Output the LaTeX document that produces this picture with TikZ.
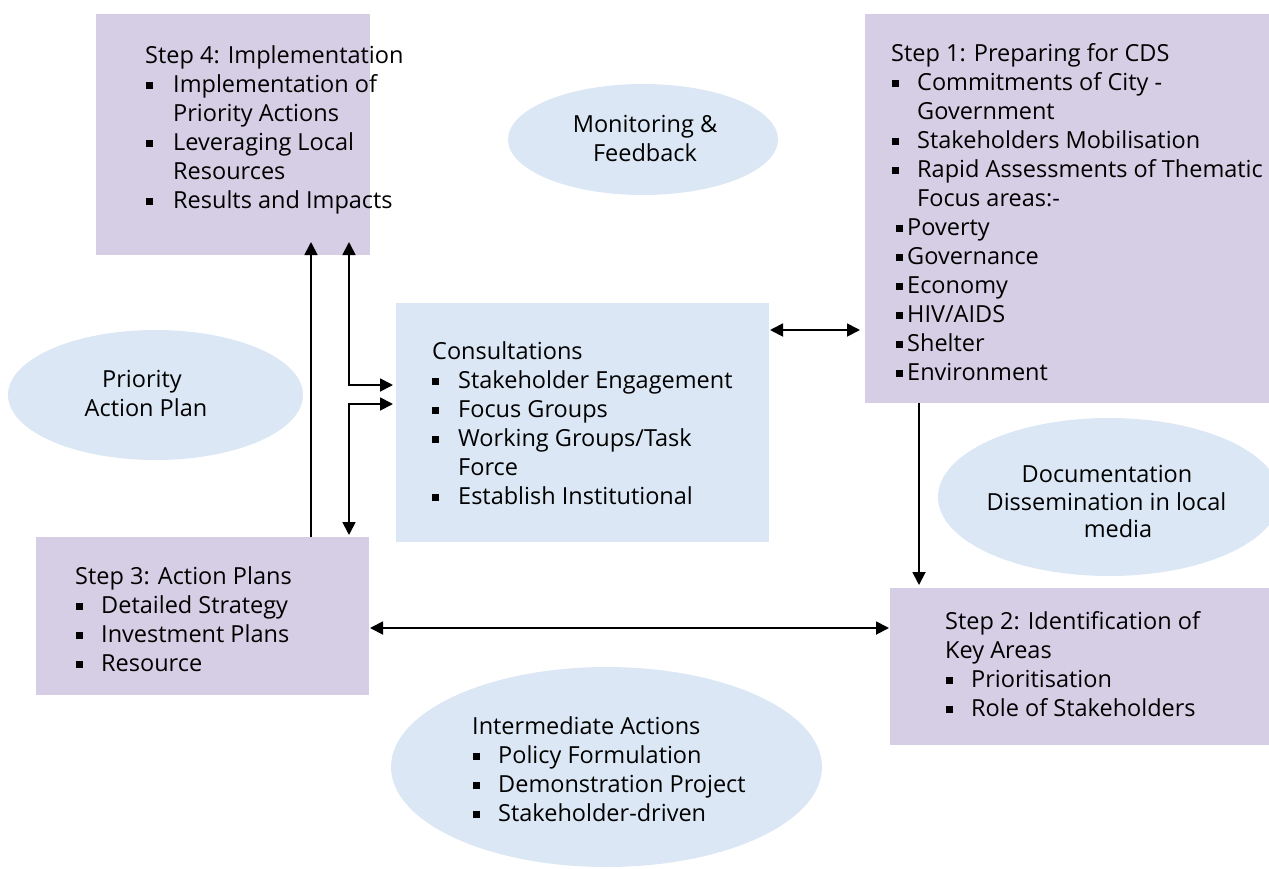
\documentclass[tikz,border=0pt]{standalone}
\usepackage{fontspec}
\setmainfont[Ligatures=NoCommon]{Open Sans}
\usetikzlibrary{shapes.geometric,arrows.meta}
\definecolor{lav}{HTML}{D6CEE4}
\definecolor{lblue}{HTML}{DBE7F4}
\tikzset{
  pbox/.style={fill=lav,draw=none,anchor=north west,inner sep=0},
  bbox/.style={fill=lblue,draw=none,anchor=north west,inner sep=0},
  ell/.style={ellipse,fill=lblue,draw=none,inner sep=0},
  txt/.style={anchor=base west,inner sep=0,font=\fontsize{23.5}{28}\selectfont},
  ctxt/.style={anchor=base,inner sep=0,font=\fontsize{23.5}{28}\selectfont},
  arr/.style={line width=1.8pt,-{Triangle[length=13pt,width=13pt]}},
  darr/.style={line width=1.8pt,{Triangle[length=13pt,width=13pt]}-{Triangle[length=13pt,width=13pt]}},
  bul/.style={fill=black}
}
\newcommand{\bitem}[5]{%
  \fill[bul] (#2,#3-10) rectangle ++(7,7);
  \node[txt] (#1) at (#4,#3) {#5};}
\begin{document}
\begin{tikzpicture}[x=1pt,y=-1pt]
\useasboundingbox (0,0) rectangle (1269,868);
% boxes
\node[pbox,minimum width=274,minimum height=241] (s4) at (96,14) {};
\node[pbox,minimum width=404,minimum height=389] (s1) at (865,14) {};
\node[bbox,minimum width=373,minimum height=239] (co) at (396,303) {};
\node[pbox,minimum width=333,minimum height=158] (s3) at (36,537) {};
\node[pbox,minimum width=379,minimum height=157] (s2) at (890,588) {};
% ellipses
\node[ell,minimum width=270,minimum height=111] (e1) at (643,139.5) {};
\node[ell,minimum width=295,minimum height=130] (e2) at (155.5,395) {};
\node[ell,minimum width=342,minimum height=158] (e3) at (1109,497) {};
\node[ell,minimum width=431,minimum height=200] (e4) at (606.5,767) {};
% Step 4
\node[txt] (s4t) at (145,63) {Step 4: Implementation};
\bitem{s4a}{146}{92}{173}{Implementation of}
\node[txt] (s4a2) at (173,121) {Priority Actions};
\bitem{s4b}{146}{150}{173}{Leveraging Local}
\node[txt] (s4b2) at (173,179) {Resources};
\bitem{s4c}{146}{208}{173}{Results and Impacts}
% Step 1
\node[txt] (s1t) at (891,61) {Step 1: Preparing for CDS};
\bitem{s1a}{892}{90}{917}{Commitments of City -}
\node[txt] (s1a2) at (917,119) {Government};
\bitem{s1b}{892}{148}{917}{Stakeholders Mobilisation}
\bitem{s1c}{892}{177}{917}{Rapid Assessments of Thematic}
\node[txt] (s1c2) at (917,206) {Focus areas:-};
\bitem{s1d}{896}{235}{907}{Poverty}
\bitem{s1e}{896}{264}{907}{Governance}
\bitem{s1f}{896}{293}{907}{Economy}
\bitem{s1g}{896}{322}{907}{HIV/AIDS}
\bitem{s1h}{896}{351}{907}{Shelter}
\bitem{s1i}{896}{380}{907}{Environment}
% Consultations
\node[txt] (cot) at (432,359) {Consultations};
\bitem{coa}{432}{388}{458}{Stakeholder Engagement}
\bitem{cob}{432}{417}{458}{Focus Groups}
\bitem{coc}{432}{446}{458}{Working Groups/Task}
\node[txt] (coc2) at (458,475) {Force};
\bitem{cod}{432}{504}{458}{Establish Institutional}
% Step 3
\node[txt] (s3t) at (75,584) {Step 3: Action Plans};
\bitem{s3a}{76}{613}{101}{Detailed Strategy}
\bitem{s3b}{76}{642}{101}{Investment Plans}
\bitem{s3c}{76}{671}{101}{Resource}
% Step 2
\node[txt] (s2t) at (945,629) {Step 2: Identification of};
\node[txt] (s2t2) at (945,658) {Key Areas};
\bitem{s2a}{946}{687}{971}{Prioritisation}
\bitem{s2b}{946}{716}{971}{Role of Stakeholders}
% ellipse texts
\node[ctxt] (e1a) at (645,132) {Monitoring \&};
\node[ctxt] (e1b) at (645,161) {Feedback};
\node[ctxt] (e2a) at (142,387) {Priority};
\node[ctxt] (e2b) at (146,416) {Action Plan};
\node[ctxt] (e3a) at (1107,482) {Documentation};
\node[ctxt] (e3b) at (1106.5,510) {Dissemination in local};
\node[ctxt] (e3c) at (1118,537) {media};
\node[txt] (e4t) at (472,734) {Intermediate Actions};
\bitem{e4a}{473}{763}{498}{Policy Formulation}
\bitem{e4b}{473}{792}{498}{Demonstration Project}
\bitem{e4c}{473}{821}{498}{Stakeholder-driven}
% connectors
\coordinate (xa) at (311,242);
\coordinate (xb) at (349,242);
\coordinate (ya) at (393,385);
\coordinate (yb) at (393,404);
\coordinate (yc) at (349,535);
\draw[arr] (xa |- s3.north) -- (xa);
\draw[darr] (xb) -- (xb |- ya) -- (ya);
\draw[darr] (yb) -- (yb -| yc) -- (yc);
\coordinate (h1) at (770,330);
\coordinate (h2) at (860,330);
\draw[darr] (h1) -- (h2);
\coordinate (v2) at (919,585);
\draw[arr] (v2 |- s1.south) -- (v2);
\coordinate (g1) at (370,628);
\coordinate (g2) at (889,628);
\draw[darr] (g1) -- (g2);
\end{tikzpicture}
\end{document}
